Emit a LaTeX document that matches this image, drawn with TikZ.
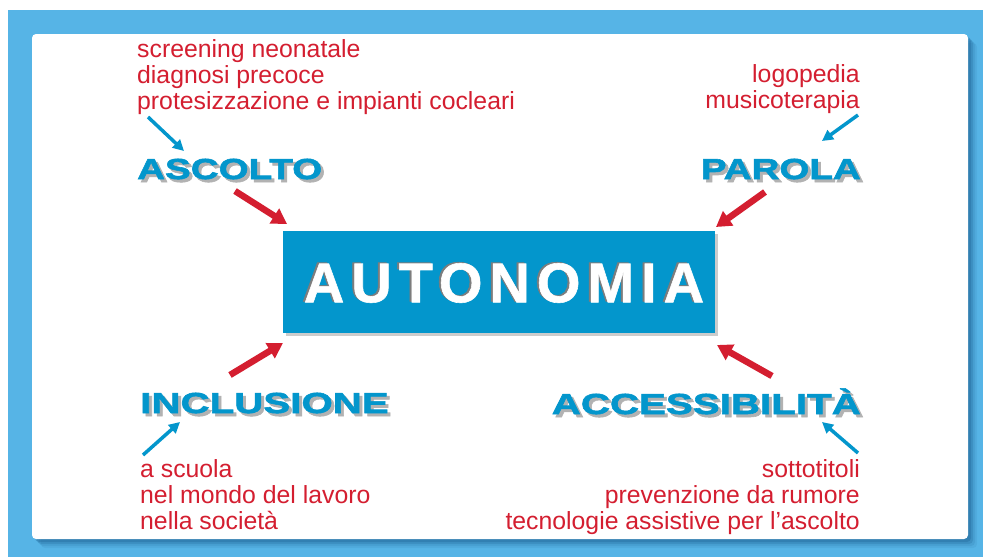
\documentclass[tikz,border=0pt]{standalone}
\usepackage{fontspec}
\setmainfont{Liberation Sans}
\newfontfamily\headfont[FakeStretch=1.33,FakeBold=2]{Liberation Sans Bold}
\newfontfamily\headwidefont[FakeStretch=1.39,FakeBold=2]{Liberation Sans Bold}
\newfontfamily\titlefont[LetterSpace=12.5,FakeBold=1]{Liberation Sans Bold}
\usetikzlibrary{arrows.meta,positioning,calc}
\definecolor{frameblue}{RGB}{86,180,230}
\definecolor{boxblue}{RGB}{3,150,204}
\definecolor{myred}{RGB}{212,30,48}
\definecolor{shadowgrey}{RGB}{125,125,125}
\definecolor{deepblue}{RGB}{30,100,150}

\tikzset{
    item/.style={text=myred, font=\fontsize{24.8}{26}\selectfont, inner sep=0pt},
    head/.style={text=boxblue, font=\headfont\fontsize{29}{30}\selectfont, inner sep=0pt},
    widehead/.style={head, font=\headwidefont\fontsize{29}{30}\selectfont},
    headshadow/.style={text=black!30},
    bigarrow/.style={myred, line width=6.5pt, -{Triangle[length=15pt,width=17pt]}},
    smallarrow/.style={boxblue, line width=3.5pt, -{Triangle[length=11pt,width=11pt]}},
}

\begin{document}
\begin{tikzpicture}[x=1pt, y=-1pt]
    \useasboundingbox (0, 0) rectangle (983, 557);
    % Frame and card
    \fill[frameblue] (8, 10) rectangle (983, 557);
    \foreach \d/\o in {9/0.10, 7/0.15, 5/0.25, 3/0.35}
        \fill[deepblue, opacity=\o, rounded corners=4] (32+\d, 34+\d) rectangle (968+\d, 539+\d);
    \fill[white, rounded corners=4] (32, 34) rectangle (968, 539);

    % Central box
    \fill[black!20] (286, 234) rectangle (718, 336);
    \node[fill=boxblue, minimum width=432, minimum height=102, inner sep=0pt] (auto) at (499, 282) {};
    \node[text=shadowgrey, font=\titlefont\fontsize{56}{58}\selectfont, inner sep=0pt]
        (auto-sh) at ($(auto.center) + (3, 0)$) {AUTONOMIA};
    \node[text=white, font=\titlefont\fontsize{56}{58}\selectfont, inner sep=0pt]
        (auto-txt) at ($(auto.center) + (5, 1)$) {AUTONOMIA};

    % Headings
    \node[head, headshadow, anchor=base west] (ascolto-sh) at (140, 182) {ASCOLTO};
    \node[head, anchor=base west] (ascolto) at (137, 179) {ASCOLTO};
    \node[head, headshadow, anchor=base east] (parola-sh) at (864, 182) {PAROLA};
    \node[head, anchor=base east] (parola) at (861, 179) {PAROLA};
    \node[widehead, headshadow, anchor=base west] (inclusione-sh) at (143, 416) {INCLUSIONE};
    \node[widehead, anchor=base west] (inclusione) at (140, 413) {INCLUSIONE};
    \node[widehead, headshadow, anchor=base east] (access-sh) at (864, 417) {ACCESSIBILIT\`A};
    \node[widehead, anchor=base east] (access) at (861, 414) {ACCESSIBILIT\`A};

    % Red lists
    \node[item, align=left, anchor=north west] (ascolto-list) at (137, 39)
        {screening neonatale\\diagnosi precoce\\protesizzazione e impianti cocleari};
    \node[item, align=right, anchor=north east] (parola-list) at (860, 64)
        {logopedia\\musicoterapia};
    \node[item, align=left, anchor=north west] (inclusione-list) at (140, 459)
        {a scuola\\nel mondo del lavoro\\nella societ\`a};
    \node[item, align=right, anchor=north east] (access-list) at (860, 459)
        {sottotitoli\\prevenzione da rumore\\tecnologie assistive per l'ascolto};

    % Arrow ends
    \coordinate (a1) at (148, 117);  \coordinate (a2) at (184, 151);
    \coordinate (a3) at (235, 191);  \coordinate (a4) at (287, 224);
    \coordinate (p1) at (858, 115);  \coordinate (p2) at (822, 141);
    \coordinate (p3) at (765, 192);  \coordinate (p4) at (716, 227);
    \coordinate (i1) at (143, 455);  \coordinate (i2) at (180, 422);
    \coordinate (i3) at (230, 375);  \coordinate (i4) at (283, 343);
    \coordinate (c1) at (858, 453);  \coordinate (c2) at (822, 422);
    \coordinate (c3) at (772, 376);  \coordinate (c4) at (717, 345);

    % Arrows
    \draw[smallarrow] (a1) -- (a2);
    \draw[bigarrow] (a3) -- (a4);
    \draw[smallarrow] (p1) -- (p2);
    \draw[bigarrow] (p3) -- (p4);
    \draw[smallarrow] (i1) -- (i2);
    \draw[bigarrow] (i3) -- (i4);
    \draw[smallarrow] (c1) -- (c2);
    \draw[bigarrow] (c3) -- (c4);
\end{tikzpicture}
\end{document}
